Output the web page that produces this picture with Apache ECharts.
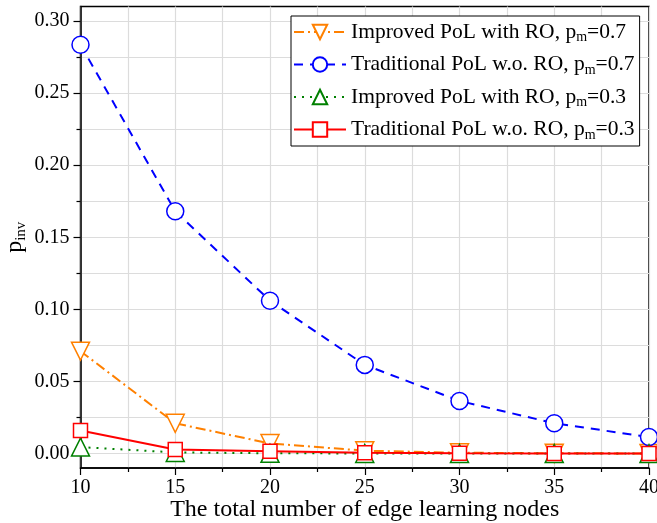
<!DOCTYPE html>
<html><head><meta charset="utf-8">
<script src="https://cdn.jsdelivr.net/npm/echarts@6/dist/echarts.min.js"></script>
<style>html,body{margin:0;padding:0;background:#fff}#c{width:657px;height:523px}</style>
</head><body><div id="c"></div>
<script>
const nodes = [10, 15, 20, 25, 30, 35, 40];
const improved07 = [0.071, 0.021, 0.007, 0.002, 0.0006, 0.0002, 0.0001];
const traditional07 = [0.2835, 0.168, 0.106, 0.0615, 0.0365, 0.021, 0.0115];
const improved03 = [0.0045, 0.0008, 0.0002, 0.0001, 0.00005, 0.00002, 0.00001];
const traditional03 = [0.016, 0.0028, 0.0017, 0.0006, 0.0003, 0.0001, 0.00005];
const yMajor = [0, 0.05, 0.10, 0.15, 0.20, 0.25, 0.30];
const yMinor = [0.025, 0.075, 0.125, 0.175, 0.225, 0.275];
const seriesNames = [
  ['Improved PoL with RO, p', '=0.7'],
  ['Traditional PoL w.o. RO, p', '=0.7'],
  ['Improved PoL with RO, p', '=0.3'],
  ['Traditional PoL w.o. RO, p', '=0.3']
];
const FONT = 'Liberation Serif';
const names = seriesNames.map(s => s[0] + 'm' + s[1]);
const pair = v => nodes.map((x, i) => [x, v[i]]);

function mk(i, data, color, symbol, size, dash, rot) {
  return {
    name: names[i], type: 'line', data: pair(data), xAxisIndex: 0, yAxisIndex: 0,
    symbol: symbol, symbolSize: size, symbolRotate: rot || 0, showAllSymbol: true,
    itemStyle: { color: '#fff', borderColor: color, borderWidth: 1.5 },
    lineStyle: { color: color, width: 2, type: dash },
    emphasis: { disabled: true }, animation: false, z: 2 + i
  };
}

const chart = echarts.init(document.getElementById('c'), null, { renderer: 'canvas' });
chart.setOption({
  backgroundColor: '#fff',
  animation: false,
  grid: { left: 80.5, right: 8, top: 6.5, bottom: 55, outerBoundsMode: 'none', containLabel: false,
          show: true, borderColor: '#000', borderWidth: 1.5, backgroundColor: 'transparent' },
  legend: {
    left: 291, top: 16, orient: 'vertical', itemGap: 9,
    itemWidth: 52, itemHeight: 18,
    backgroundColor: '#fff', borderColor: '#000', borderWidth: 1,
    padding: [5, 5, 4, 2],
    data: names,
    formatter: function (n) {
      const i = names.indexOf(n);
      return '{a|' + seriesNames[i][0] + '}{s|m}{a|' + seriesNames[i][1] + '}';
    },
    textStyle: {
      fontFamily: FONT, fontSize: 21.5, color: '#000',
      rich: {
        a: { fontFamily: FONT, fontSize: 21.5, color: '#000' },
        s: { fontFamily: FONT, fontSize: 14, color: '#000', verticalAlign: 'bottom', padding: [11, 0, 0, 0] }
      }
    }
  },
  xAxis: [{
    type: 'value', min: 10, max: 40, interval: 5,
    name: 'The total number of edge learning nodes', nameLocation: 'middle', nameGap: 30, nameMoveOverlap: false,
    nameTextStyle: { fontFamily: FONT, fontSize: 24, color: '#000' },
    axisLine: { show: true, onZero: false, lineStyle: { color: '#000', width: 1.5 } },
    axisTick: { show: true, inside: false, length: 7, lineStyle: { color: '#000', width: 1.2 } },
    minorTick: { show: true, splitNumber: 2, length: 4, lineStyle: { color: '#000', width: 1.2 } },
    axisLabel: { fontFamily: FONT, fontSize: 20, color: '#000', margin: 10 },
    splitLine: { show: true, lineStyle: { color: '#dcdcdc', width: 1.2 } },
    minorSplitLine: { show: true, lineStyle: { color: '#dcdcdc', width: 1.2 } }
  }],
  yAxis: [{
    type: 'value', min: -0.01, max: 0.31,
    name: '{a|p}{s|inv}', nameLocation: 'middle', nameGap: 52, nameRotate: 90, nameMoveOverlap: false,
    nameTextStyle: {
      fontFamily: FONT, fontSize: 24, color: '#000',
      rich: {
        a: { fontFamily: FONT, fontSize: 24, color: '#000' },
        s: { fontFamily: FONT, fontSize: 15, color: '#000', verticalAlign: 'bottom', padding: [13, 0, 0, 0] }
      }
    },
    axisLine: { show: true, onZero: false, lineStyle: { color: '#000', width: 1.5 } },
    axisTick: { show: true, inside: false, length: 7, customValues: yMajor, lineStyle: { color: '#000', width: 1.2 } },
    axisLabel: { fontFamily: FONT, fontSize: 20, color: '#000', margin: 11, customValues: yMajor, formatter: v => v.toFixed(2) },
    splitLine: { show: true, lineStyle: { color: '#dcdcdc', width: 1.2 } }
  }, {
    type: 'value', min: -0.01, max: 0.31, position: 'left',
    axisLine: { show: false },
    axisTick: { show: true, inside: false, length: 4, customValues: yMinor, lineStyle: { color: '#000', width: 1.2 } },
    axisLabel: { show: false, customValues: yMinor },
    splitLine: { show: true, lineStyle: { color: '#dcdcdc', width: 1.2 } }
  }],
  series: [
    mk(0, improved07, '#ff8000', 'triangle', 18, [10, 4, 2, 4], 180),
    mk(1, traditional07, '#0000ff', 'circle', 17, [9, 7]),
    mk(2, improved03, '#008000', 'triangle', 18, [2, 6]),
    mk(3, traditional03, '#ff0000', 'rect', 14, 'solid')
  ]
});
</script></body></html>
